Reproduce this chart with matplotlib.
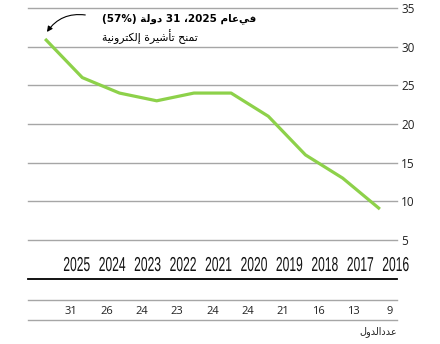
import matplotlib
matplotlib.use("Agg")
import matplotlib.pyplot as plt
from matplotlib import transforms
from matplotlib.patheffects import AbstractPathEffect

# Данные
years = [2016, 2017, 2018, 2019, 2020, 2021, 2022, 2023, 2024, 2025]
counts = [9, 13, 16, 21, 24, 24, 23, 24, 26, 31]
y_ticks = [5, 10, 15, 20, 25, 30, 35]

title_ar = "في عام 2025، 31 دولة (57%)"
subtitle_ar = "تمنح تأشيرة إلكترونية"
row_label_ar = "عددالدول"

# простая арабская "сборка" в формы представления (matplotlib сам не умеет)
FORMS = {
    "ا": ("\uFE8D", "\uFE8E", None, None),
    "أ": ("\uFE83", "\uFE84", None, None),
    "إ": ("\uFE87", "\uFE88", None, None),
    "ة": ("\uFE93", "\uFE94", None, None),
    "د": ("\uFEA9", "\uFEAA", None, None),
    "ر": ("\uFEAD", "\uFEAE", None, None),
    "و": ("\uFEED", "\uFEEE", None, None),
    "ت": ("\uFE95", "\uFE96", "\uFE97", "\uFE98"),
    "ح": ("\uFEA1", "\uFEA2", "\uFEA3", "\uFEA4"),
    "ش": ("\uFEB5", "\uFEB6", "\uFEB7", "\uFEB8"),
    "ع": ("\uFEC9", "\uFECA", "\uFECB", "\uFECC"),
    "ف": ("\uFED1", "\uFED2", "\uFED3", "\uFED4"),
    "ك": ("\uFED9", "\uFEDA", "\uFEDB", "\uFEDC"),
    "ل": ("\uFEDD", "\uFEDE", "\uFEDF", "\uFEE0"),
    "م": ("\uFEE1", "\uFEE2", "\uFEE3", "\uFEE4"),
    "ن": ("\uFEE5", "\uFEE6", "\uFEE7", "\uFEE8"),
    "ي": ("\uFEF1", "\uFEF2", "\uFEF3", "\uFEF4"),
}


def shape_word(word):
    out = []
    for i, ch in enumerate(word):
        if ch not in FORMS:
            out.append(ch)
            continue
        prev = word[i - 1] if i > 0 else ""
        nxt = word[i + 1] if i + 1 < len(word) else ""
        dual = FORMS[ch][2] is not None
        join_prev = prev in FORMS and FORMS[prev][2] is not None
        join_next = dual and nxt in FORMS
        iso, fin, ini, med = FORMS[ch]
        if join_prev and join_next:
            out.append(med)
        elif join_prev:
            out.append(fin)
        elif join_next:
            out.append(ini)
        else:
            out.append(iso)
    return "".join(reversed(out))


def shape_line(words, sep=" "):
    # слова в логическом порядке -> визуальный порядок слева направо
    return sep.join(shape_word(w) if any(c in FORMS for c in w) else w
                    for w in reversed(words))


title_words = title_ar.split(" ")
line1 = (shape_line(title_words[4:]) + " " + title_words[3] + " "
         + title_words[2][-1] + title_words[2][:-1] + " "
         + shape_line(title_words[:2], sep=""))
line2 = shape_line(subtitle_ar.split(" "))
row_label = shape_word(row_label_ar)


# сжатие текста по горизонтали (узкий шрифт подписей лет)
class Squeeze(AbstractPathEffect):
    def __init__(self, sx):
        super().__init__()
        self.sx = sx

    def draw_path(self, renderer, gc, tpath, affine, rgbFace=None):
        bb = tpath.get_extents(affine)
        cx = (bb.x0 + bb.x1) / 2
        aff = affine + transforms.Affine2D().translate(-cx, 0).scale(self.sx, 1).translate(cx, 0)
        renderer.draw_path(gc, tpath, aff, rgbFace)


W, H = 440, 344
fig = plt.figure(figsize=(W / 100, H / 100), dpi=100)

L, R = 28, 397
green = "#8dd14a"
grid_c = "#a6a6a6"
num_font = ["Open Sans", "DejaVu Sans"]


def box(x0, y0, x1, y1):
    return [x0 / W, 1 - y1 / H, (x1 - x0) / W, (y1 - y0) / H]


# основной график
ax = fig.add_axes(box(L, 8, R, 240))
ax.plot(years, counts, color=green, lw=2.3, solid_capstyle="butt")
ax.set_xlim(2025.46, 2015.54)
ax.set_ylim(5, 35)
ax.set_yticks(y_ticks)
ax.yaxis.tick_right()
ax.tick_params(axis="y", length=0, pad=3, labelsize=8.5, labelcolor="#222222")
for lab in ax.get_yticklabels():
    lab.set_family(num_font)
ax.set_xticks([])
ax.grid(axis="y", color=grid_c, lw=1)
for gl in ax.get_ygridlines():
    gl.set_clip_on(False)
for s in ax.spines.values():
    s.set_visible(False)

ax.annotate("", xy=(2024.95, 31.9), xytext=(2023.92, 34.1),
            arrowprops=dict(arrowstyle="-|>", color="black", lw=0.8,
                            connectionstyle="arc3,rad=0.3",
                            mutation_scale=8, shrinkA=0, shrinkB=0))
fig.text(102 / W, 1 - 19 / H, line1, family=["DejaVu Sans"], weight="bold",
         fontsize=7.5, ha="left", va="center")
fig.text(102 / W, 1 - 37 / H, line2, family=["DejaVu Sans"],
         fontsize=7.8, ha="left", va="center")

# подписи лет
ax_y = fig.add_axes(box(L, 252, R, 279))
ax_y.set_xlim(2026.37, 2015.96)
ax_y.set_ylim(0, 1)
ax_y.axis("off")
ax_y.axhline(0, color="black", lw=1.3, clip_on=False)
for yr in years:
    ax_y.text(yr, 0.5, str(yr), ha="center", va="center", fontsize=14.5,
              family=["Liberation Sans", "DejaVu Sans"], color="#111111",
              path_effects=[Squeeze(0.6)])

# строка таблицы
ax_t = fig.add_axes(box(L, 300, R, 320))
ax_t.set_xlim(2026.22, 2015.78)
ax_t.set_ylim(0, 1)
ax_t.axis("off")
ax_t.axhline(1, color=grid_c, lw=1, clip_on=False)
ax_t.axhline(0, color=grid_c, lw=1, clip_on=False)
for yr, c in zip(years, counts):
    ax_t.text(yr, 0.45, str(c), ha="center", va="center", fontsize=8,
              family=num_font, color="#222222")
ax_t.text(1.0, -0.6, row_label, transform=ax_t.transAxes, ha="right",
          va="center", fontsize=7, family=["DejaVu Sans"], color="#222222")

fig.savefig("out.png", dpi=100)
